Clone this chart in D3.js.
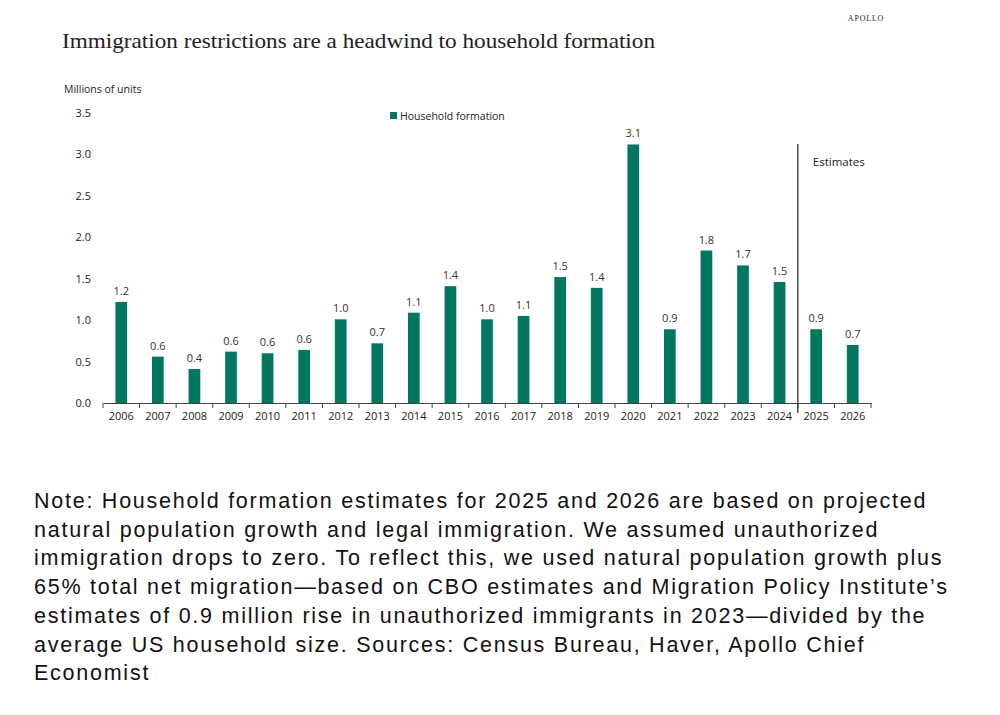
<!DOCTYPE html>
<html><head><meta charset="utf-8">
<script src="https://cdn.jsdelivr.net/npm/d3@7"></script>
<style>body{margin:0;background:#fff}svg{display:block}</style>
</head><body>
<svg id="c" width="1000" height="715"></svg>
<script>
const years = ["2006","2007","2008","2009","2010","2011","2012","2013","2014","2015","2016","2017","2018","2019","2020","2021","2022","2023","2024","2025","2026"];
const values = [1.22,0.56,0.41,0.62,0.60,0.64,1.01,0.72,1.09,1.41,1.01,1.05,1.52,1.39,3.12,0.89,1.84,1.66,1.46,0.89,0.70];
const labels = ["1.2","0.6","0.4","0.6","0.6","0.6","1.0","0.7","1.1","1.4","1.0","1.1","1.5","1.4","3.1","0.9","1.8","1.7","1.5","0.9","0.7"];
const yTicks = [0,0.5,1.0,1.5,2.0,2.5,3.0,3.5];
const noteLines = [
 "Note: Household formation estimates for 2025 and 2026 are based on projected",
 "natural population growth and legal immigration. We assumed unauthorized",
 "immigration drops to zero. To reflect this, we used natural population growth plus",
 "65% total net migration\u2014based on CBO estimates and Migration Policy Institute\u2019s",
 "estimates of 0.9 million rise in unauthorized immigrants in 2023\u2014divided by the",
 "average US household size. Sources: Census Bureau, Haver, Apollo Chief",
 "Economist"
];
const title = "Immigration restrictions are a headwind to household formation";
const seriesName = "Household formation";
const estimateStart = "2025";

const svg = d3.select("#c");
const color = "#00775f";
const sans = "'Open Sans', 'Noto Sans', sans-serif";

const x = d3.scaleBand().domain(years).range([103, 871]).paddingInner(0.68).paddingOuter(0.34);
const y = d3.scaleLinear().domain([0,3.5]).range([403,113]);

// title
svg.append("text").attr("x",62).attr("y",48).attr("font-family","'Liberation Serif', serif")
  .attr("font-size",21).attr("fill","#222").attr("textLength",593).attr("lengthAdjust","spacingAndGlyphs").text(title);
svg.append("text").attr("x",866).attr("y",21).attr("text-anchor","middle").attr("font-family","'Liberation Serif', serif")
  .attr("font-size",8).attr("letter-spacing",0.8).attr("fill","#222").text("APOLLO");

svg.append("text").attr("x",64).attr("y",93).attr("font-family",sans).attr("font-size",10.5).attr("fill","#222").text("Millions of units");

// y labels
svg.append("g").selectAll("text").data(yTicks).join("text")
  .attr("x",91).attr("y",d=>y(d)+4).attr("text-anchor","end")
  .attr("font-family",sans).attr("font-size",11).attr("fill","#222").text(d=>d.toFixed(1));

// x axis
const xAxis = d3.axisBottom(x).tickSize(0).tickPadding(9);
const gx = svg.append("g").attr("transform","translate(0,403)").call(xAxis);
gx.select(".domain").attr("stroke","#444");
gx.selectAll("text").attr("font-family",sans).attr("font-size",11).attr("fill","#222");
const edges = d3.range(years.length+1).map(i=>103+i*(768/years.length));
gx.selectAll(".edge").data(edges).join("line").attr("class","edge")
  .attr("x1",d=>d).attr("x2",d=>d).attr("y1",0).attr("y2",5).attr("stroke","#444");

// bars
svg.append("g").selectAll("rect").data(years).join("rect")
  .attr("x",d=>x(d)).attr("width",x.bandwidth())
  .attr("y",(d,i)=>y(values[i])).attr("height",(d,i)=>y(0)-y(values[i])).attr("fill",color);

svg.append("g").selectAll("text").data(years).join("text")
  .attr("x",d=>x(d)+x.bandwidth()/2).attr("y",(d,i)=>y(values[i])-7).attr("text-anchor","middle")
  .attr("font-family",sans).attr("font-size",11).attr("fill","#333").text((d,i)=>labels[i]);

// estimates divider
const xd = edges[years.indexOf(estimateStart)];
svg.append("line").attr("x1",xd).attr("x2",xd).attr("y1",144).attr("y2",413).attr("stroke","#222").attr("stroke-width",1.2);
svg.append("text").attr("x",xd+15).attr("y",166).attr("font-family",sans).attr("font-size",11.5).attr("fill","#222").text("Estimates");

// legend
svg.append("rect").attr("x",390).attr("y",112).attr("width",7).attr("height",7).attr("fill",color);
svg.append("text").attr("x",400).attr("y",120).attr("font-family",sans).attr("font-size",10.5).attr("fill","#222").text(seriesName);

// note
svg.append("g").selectAll("text").data(noteLines).join("text")
  .attr("x",34).attr("y",(d,i)=>508+i*28.7)
  .attr("font-family","'Liberation Sans', Arial, sans-serif").attr("font-size",21.5)
  .attr("letter-spacing",1.75).attr("fill","#111").text(d=>d);
</script>
</body></html>
